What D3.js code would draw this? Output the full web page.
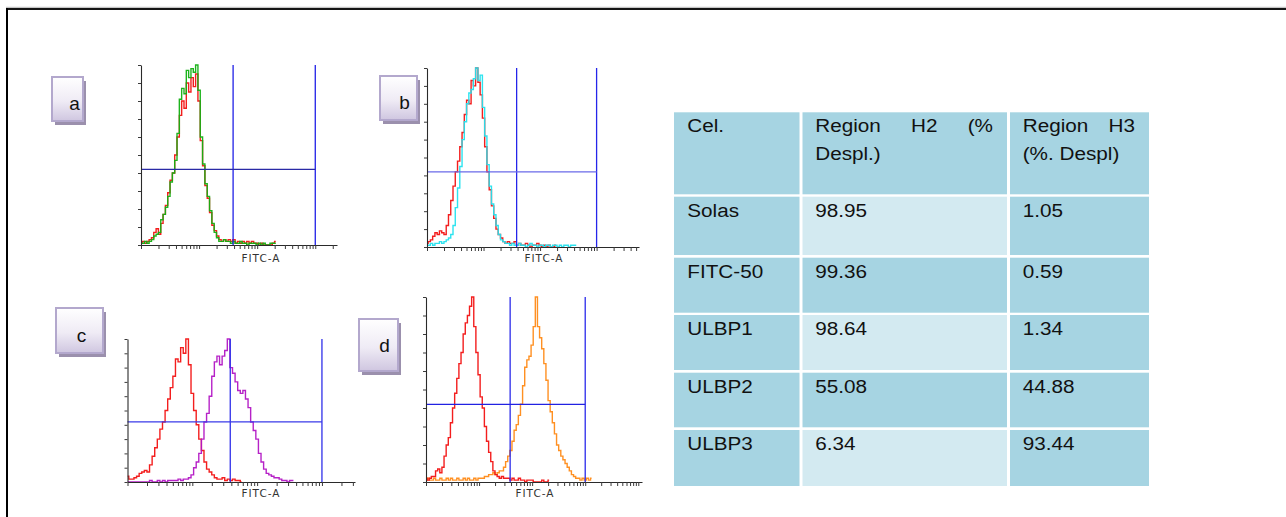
<!DOCTYPE html>
<html>
<head>
<meta charset="utf-8">
<script src="https://cdn.jsdelivr.net/npm/d3@7"></script>
<style>
  html, body { margin: 0; padding: 0; background: #ffffff; }
  svg { display: block; }
</style>
</head>
<body>
<svg id="fig" width="1286" height="517"></svg>
<script>
// ---------------------------------------------------------------
// FITC-A histograms: each value is the event count in one channel,
// as % of the tallest channel. Channel centres sit on a log10 grid
// that starts at 10^2 and advances 0.04 decades per channel.
// ---------------------------------------------------------------
const binStartLog = 2.0;
const binStepLog = 0.04;

// a: Solas (red) vs FITC-50 (green)
const aRed   = [1,2,1,2,3,4,7,9,6,12,17,22,29,36,40,50,60,72,80,76,90,85,93,88,95,80,58,44,33,26,18,11,8,5,3,2,3,2,3,2,3,1,2,1,2,1,2,1,2,1,1,0,1,0,0,0,0,1,2];
const aGreen = [1,1,2,1,2,3,5,6,7,14,17,21,27,35,40,47,62,81,87,84,97,93,98,96,100,86,60,45,34,27,19,12,7,4,2,2,3,2,2,1,2,1,1,2,1,1,0,1,1,1,0,1,0,1,0,0,1,1,1];

// b: Solas (red) vs ULBP1 (cyan)
const bRed  = [2,3,4,6,8,7,9,8,7,12,18,26,34,42,48,56,64,74,82,80,93,90,100,92,85,72,56,42,32,23,16,10,7,5,3,2,3,2,2,3,1,2,1,1,2,1,0,1,1,2,1,0,1,0,1,0,0,1];
const bCyan = [1,1,2,1,2,2,3,2,3,4,5,7,12,22,33,45,60,70,80,86,88,94,100,93,96,78,62,46,34,24,18,12,7,4,3,2,2,1,2,1,1,2,1,1,0,1,2,1,1,0,1,1,0,1,1,0,1,1,0,1,0,1,1,0,1,1,1];

// c: Solas (red) vs ULBP2 (magenta)
const cRed     = [4,2,2,3,4,6,7,8,7,12,18,24,30,37,42,50,58,66,74,86,84,94,90,100,82,62,50,40,30,22,14,9,7,5,3,2,2,3,1,2,1,2,1,1,0];
const cMagenta = [0,0,0,0,0,0,0,0,0,1,0,0,1,0,1,0,1,1,1,1,2,1,2,2,3,5,10,14,20,30,42,48,60,74,84,88,82,88,92,100,80,76,70,64,62,64,58,52,42,36,30,20,14,9,6,5,4,3,3,2,1,1,0,1,1];

// d: Solas (red) vs ULBP3 (orange)
const dRed    = [2,1,2,3,3,6,7,5,8,14,20,24,32,40,48,56,64,70,80,86,90,95,100,84,70,58,46,40,30,22,16,11,6,4,3,2,3,2,2,2,1,2,1,1,2,1,1,0,1,1,1,0,0,0,0,1,0,0,1];
const dOrange = [1,2,1,1,2,1,1,2,1,1,2,1,2,1,1,2,1,1,2,1,2,1,1,2,1,2,2,2,3,3,4,4,5,4,5,6,6,8,11,14,17,22,28,31,36,42,52,62,66,68,74,84,100,84,78,72,64,55,44,38,32,26,20,17,14,12,10,8,6,4,3,2,2,1,2,1,2,1,2];

// Gate markers (FITC-A intensity) and marker level (% of max count)
const gateLow = 3850;
const gateHigh = 100000;
const gateLevel = 42;

// Summary table
const tableHeader = [["Cel."], ["Region H2 (%", "Despl.)"], ["Region H3", "(%. Despl)"]];
const cellLines   = ["Solas", "FITC-50", "ULBP1", "ULBP2", "ULBP3"];
const regionH2    = ["98.95", "99.36", "98.64", "55.08", "6.34"];
const regionH3    = ["1.05", "0.59", "1.34", "44.88", "93.44"];

const panelLetters = ["a", "b", "c", "d"];
const axisLabel = "FITC-A";

// ---------------------------------------------------------------
const svg = d3.select("#fig");

// outer frame (top and left edges)
svg.append("line").attr("x1", 6).attr("x2", 1286).attr("y1", 7.4).attr("y2", 7.4)
  .attr("stroke", "#c6c6c6").attr("stroke-width", 1.4);
svg.append("line").attr("x1", 6).attr("x2", 1286).attr("y1", 9).attr("y2", 9)
  .attr("stroke", "#151515").attr("stroke-width", 2);
svg.append("line").attr("x1", 7).attr("x2", 7).attr("y1", 8).attr("y2", 517)
  .attr("stroke", "#000000").attr("stroke-width", 2);

// gradient for the panel letter tags
const defs = svg.append("defs");
const grad = defs.append("linearGradient").attr("id", "tagFill")
  .attr("x1", 0).attr("y1", 0).attr("x2", 0).attr("y2", 1);
grad.append("stop").attr("offset", "0%").attr("stop-color", "#ffffff");
grad.append("stop").attr("offset", "55%").attr("stop-color", "#efebf5");
grad.append("stop").attr("offset", "100%").attr("stop-color", "#cfc6e0");

// panel geometry and styling
const panels = [
  { letter: panelLetters[0], left: 141, right: 337, top: 65, base: 245, maxLog: 5.374,
    labelX: 261, labelY: 262, tag: [52, 77, 31, 44], letterX: 74.5, letterY: 110,
    hColor: "#2a2aa6", vColor: "#2020e6",
    series: [{ v: aRed, c: "#f21212" }, { v: aGreen, c: "#12b012" }] },
  { letter: panelLetters[1], left: 427, right: 639, top: 68, base: 247, maxLog: 5.75,
    labelX: 544, labelY: 262, tag: [380, 76, 37, 44], letterX: 404.5, letterY: 108.5,
    hColor: "#6a6ae8", vColor: "#2525ea",
    series: [{ v: bRed, c: "#f21212" }, { v: bCyan, c: "#22e2ee" }] },
  { letter: panelLetters[2], left: 127.5, right: 355, top: 339, base: 482, maxLog: 5.51,
    labelX: 261, labelY: 497, tag: [56, 308, 47, 45], letterX: 81.5, letterY: 341.5,
    hColor: "#3a3ae8", vColor: "#3030ea",
    series: [{ v: cRed, c: "#f21212" }, { v: cMagenta, c: "#b216c4" }] },
  { letter: panelLetters[3], left: 426, right: 642, top: 297, base: 482, maxLog: 6.07,
    labelX: 535, labelY: 497, tag: [359, 319, 39, 52], letterX: 384.5, letterY: 352,
    hColor: "#2222e2", vColor: "#2a2aea",
    series: [{ v: dOrange, c: "#ff8a16" }, { v: dRed, c: "#f21212" }] }
];

function logTickValues(maxLog) {
  const t = [];
  for (let k = 2; k <= Math.floor(maxLog); k++) {
    for (let m = 1; m <= 9; m++) {
      const v = m * Math.pow(10, k);
      if (Math.log10(v) <= maxLog + 1e-9) t.push(v);
    }
  }
  return t;
}

panels.forEach((p, pi) => {
  const g = svg.append("g");

  // letter tag with drop shadow
  const [tx, ty, tw, th] = p.tag;
  g.append("rect").attr("x", tx + 3).attr("y", ty + 4).attr("width", tw).attr("height", th)
    .attr("fill", "#9b90ad");
  g.append("rect").attr("x", tx).attr("y", ty).attr("width", tw).attr("height", th)
    .attr("fill", "url(#tagFill)").attr("stroke", "#b3a8cd").attr("stroke-width", 2);
  g.append("text").attr("x", p.letterX).attr("y", p.letterY)
    .attr("text-anchor", "middle")
    .attr("font-family", "'Liberation Sans', Arial, sans-serif")
    .attr("font-size", 19).attr("fill", "#111")
    .text(p.letter);

  const x = d3.scaleLog().domain([Math.pow(10, binStartLog), Math.pow(10, p.maxLog)])
    .range([p.left, p.right]);
  const y = d3.scaleLinear().domain([0, 100]).range([p.base, p.top]);

  const clipId = "clip" + pi;
  defs.append("clipPath").attr("id", clipId).append("rect")
    .attr("x", p.left).attr("y", p.top - 1).attr("width", p.right - p.left).attr("height", p.base - p.top + 1);

  // histograms
  const hist = d3.line()
    .x((d, i) => x(Math.pow(10, binStartLog + binStepLog * i)))
    .y(d => y(d))
    .curve(d3.curveStep);
  const hg = g.append("g").attr("clip-path", `url(#${clipId})`);
  p.series.forEach(s => {
    hg.append("path").datum(s.v).attr("d", hist)
      .attr("fill", "none").attr("stroke", s.c).attr("stroke-width", 1.4)
      .attr("stroke-opacity", 0.95)
      .attr("stroke-linejoin", "miter");
  });

  // gate markers
  [gateLow, gateHigh].forEach(gv => {
    g.append("line").attr("x1", x(gv)).attr("x2", x(gv)).attr("y1", p.top).attr("y2", p.base)
      .attr("stroke", p.vColor).attr("stroke-width", 1.3);
  });
  g.append("line").attr("x1", p.left).attr("x2", x(gateHigh))
    .attr("y1", y(gateLevel)).attr("y2", y(gateLevel))
    .attr("stroke", p.hColor).attr("stroke-width", 1.3);

  // axes
  const xAxis = d3.axisBottom(x).tickValues(logTickValues(p.maxLog))
    .tickFormat("").tickSize(4).tickSizeOuter(0);
  const xg = g.append("g").attr("transform", `translate(0,${p.base})`).call(xAxis);
  const yAxis = d3.axisLeft(y).ticks(10).tickFormat("").tickSize(3).tickSizeOuter(0);
  const yg = g.append("g").attr("transform", `translate(${p.left},0)`).call(yAxis);
  [xg, yg].forEach(ag => {
    ag.select(".domain").attr("stroke", "#2a2a2a").attr("stroke-width", 1.1);
    ag.selectAll(".tick line").attr("stroke", "#3a3a3a");
  });

  g.append("text").attr("x", p.labelX).attr("y", p.labelY)
    .attr("text-anchor", "middle")
    .attr("font-family", "'DejaVu Sans', Verdana, sans-serif")
    .attr("font-size", 10.5).attr("letter-spacing", 1)
    .attr("fill", "#333")
    .text(axisLabel);
});

// ---------------------------------------------------------------
// Summary table
// ---------------------------------------------------------------
const colX = [674, 802.5, 1010];
const colW = [125.5, 204.5, 139];
const rowY = [112.3, 196.7, 257.7, 315, 372.7, 430];
const rowH = [82, 58.3, 55, 55, 54.6, 56];
const padL = [13.3, 12.7, 12.7];
const padR = 14;
const darkCell = "#a6d4e2";
const lightCell = "#d3eaf1";
const textScale = 1.09;
const tableFont = "'Liberation Sans', Arial, sans-serif";

const tbl = svg.append("g");

const rows = [tableHeader].concat(cellLines.map((c, i) => [[c], [regionH2[i]], [regionH3[i]]]));

rows.forEach((row, ri) => {
  row.forEach((lines, ci) => {
    const fill = (ri > 0 && ci === 1 && (ri - 1) % 2 === 0) ? lightCell : darkCell;
    tbl.append("rect").attr("x", colX[ci]).attr("y", rowY[ri])
      .attr("width", colW[ci]).attr("height", rowH[ri]).attr("fill", fill);

    lines.forEach((line, li) => {
      const tx = colX[ci] + padL[ci];
      const ty = rowY[ri] + 19.8 + li * 28.3;
      const tg = tbl.append("g")
        .attr("transform", `translate(${tx},${ty}) scale(${textScale},1)`)
        .attr("font-family", tableFont).attr("font-size", 19).attr("fill", "#111");
      const words = line.split(" ");
      const justify = ri === 0 && li === 0 && lines.length > 1 && words.length > 1;
      if (justify) {
        const avail = (colW[ci] - padL[ci] - padR) / textScale;
        const nodes = words.map(w => tg.append("text").text(w));
        const lens = nodes.map(n => n.node().getComputedTextLength());
        const gap = (avail - d3.sum(lens)) / (words.length - 1);
        let cx = 0;
        nodes.forEach((n, i) => { n.attr("x", cx); cx += lens[i] + gap; });
      } else {
        tg.append("text").attr("x", 0).text(line);
      }
    });
  });
});
</script>
</body>
</html>
